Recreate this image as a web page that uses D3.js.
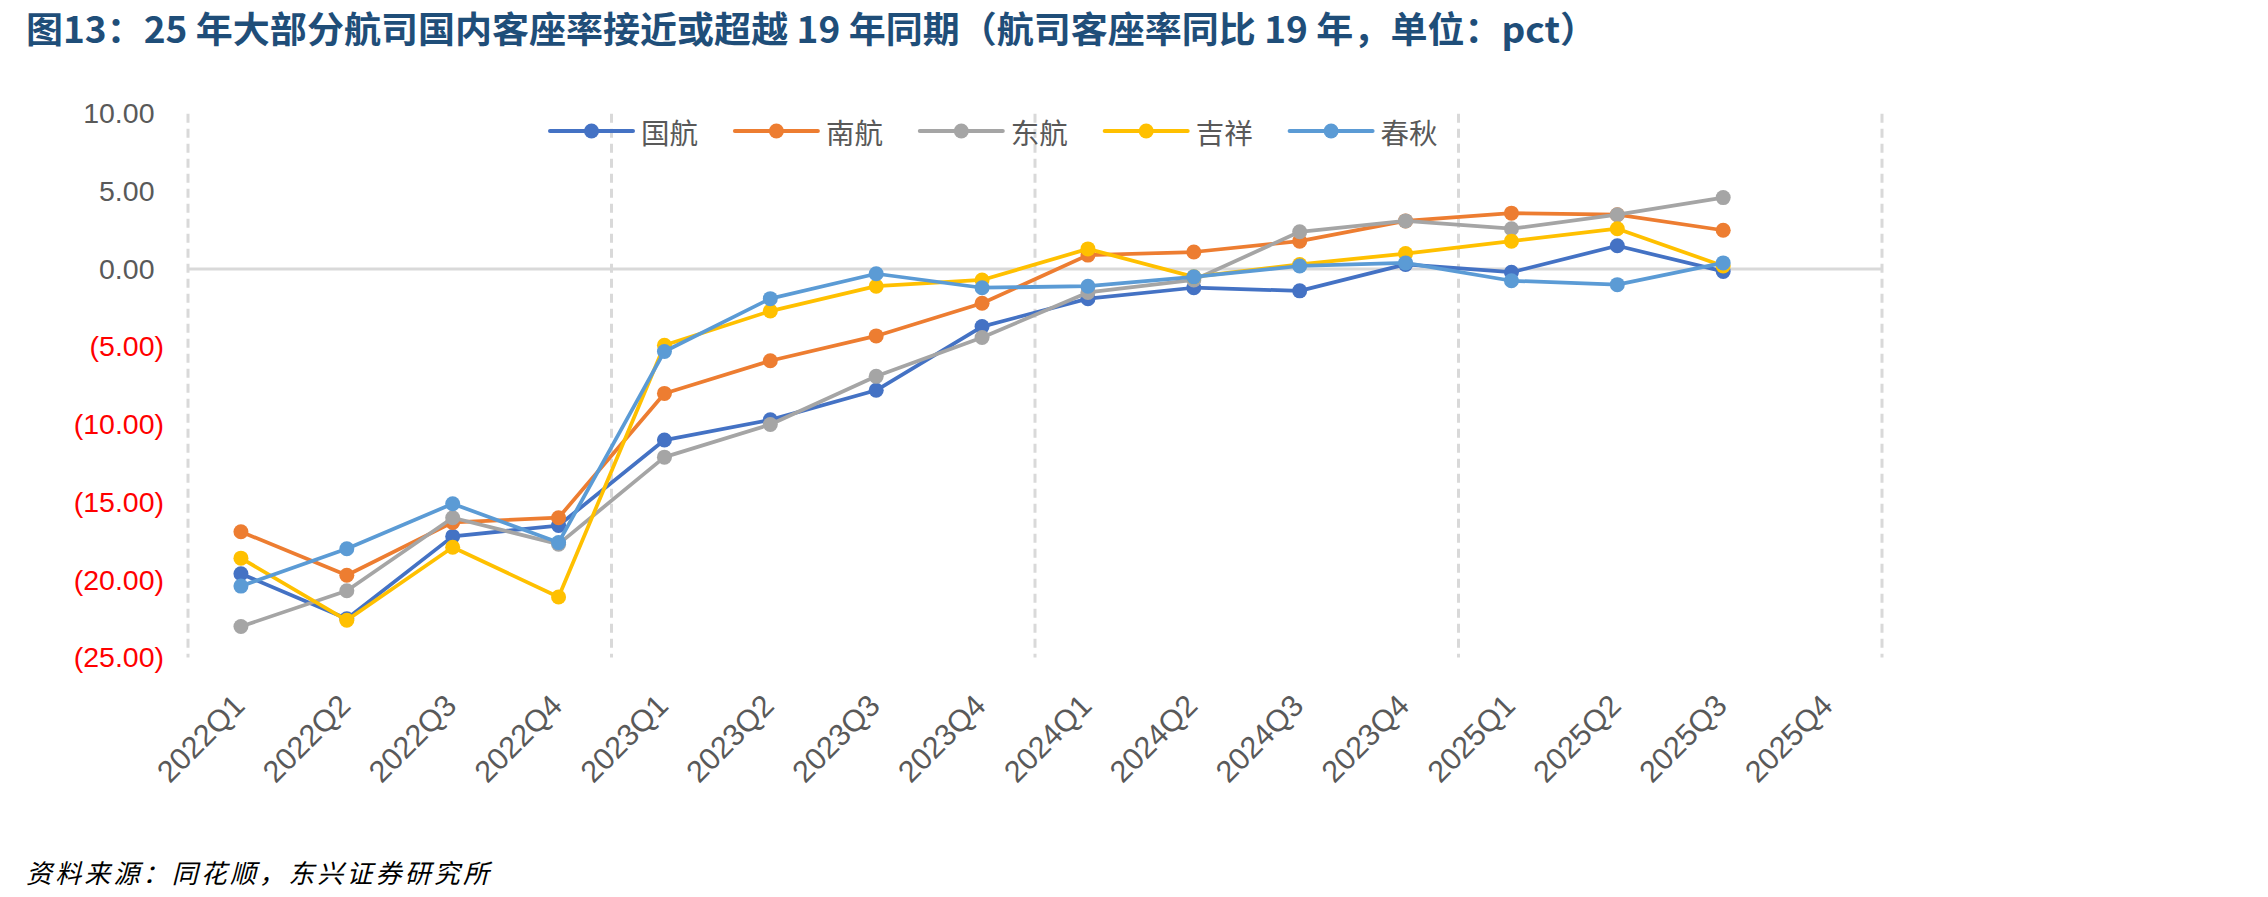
<!DOCTYPE html>
<html>
<head>
<meta charset="utf-8">
<script src="https://cdn.jsdelivr.net/npm/d3@7"></script>
<style>
  html, body { margin: 0; padding: 0; background: #ffffff; }
  svg { display: block; }
</style>
</head>
<body>
<svg id="chart" width="2268" height="897"></svg>
<script>
// ---------- data ----------
const categories = ["2022Q1","2022Q2","2022Q3","2022Q4","2023Q1","2023Q2","2023Q3","2023Q4",
                    "2024Q1","2024Q2","2024Q3","2023Q4","2025Q1","2025Q2","2025Q3","2025Q4"];
const seriesNames = ["国航", "南航", "东航", "吉祥", "春秋"];
const airChina   = [-19.6, -22.5, -17.2, -16.5, -11.0, -9.7, -7.8, -3.7, -1.9, -1.2, -1.4, 0.3, -0.2, 1.5, -0.15, null];
const chinaSouth = [-16.9, -19.7, -16.3, -16.0, -8.0, -5.9, -4.3, -2.2, 0.9, 1.1, 1.8, 3.1, 3.6, 3.5, 2.5, null];
const chinaEast  = [-23.0, -20.7, -16.0, -17.7, -12.1, -10.0, -6.9, -4.4, -1.5, -0.7, 2.4, 3.1, 2.6, 3.5, 4.6, null];
const juneyao    = [-18.6, -22.6, -17.9, -21.1, -4.9, -2.7, -1.1, -0.7, 1.3, -0.5, 0.3, 1.0, 1.8, 2.6, 0.2, null];
const springAir  = [-20.4, -18.0, -15.1, -17.6, -5.3, -1.9, -0.3, -1.2, -1.1, -0.5, 0.2, 0.4, -0.75, -1.0, 0.4, null];
const yTicks = [10, 5, 0, -5, -10, -15, -20, -25];
const colors = ["#4472C4", "#ED7D31", "#A5A5A5", "#FFC000", "#5B9BD5"];

const titleText = "图13：25 年大部分航司国内客座率接近或超越 19 年同期（航司客座率同比 19 年，单位：pct）";
const sourceText = "资料来源：同花顺，东兴证券研究所";

const series = [airChina, chinaSouth, chinaEast, juneyao, springAir];

// ---------- layout ----------
const plotLeft = 188, plotRight = 1882;
const yTop = 113.7, yBottom = 657.6;
const svg = d3.select("#chart");
const latin = "'Liberation Sans', Arial, sans-serif";
const cjk = "'Noto Sans CJK SC', 'Liberation Sans', sans-serif";

const x = d3.scaleBand().domain(d3.range(categories.length)).range([plotLeft, plotRight]).paddingInner(0).paddingOuter(0);
const y = d3.scaleLinear().domain([-25, 10]).range([yBottom, yTop]);
const cx = i => x(i) + x.bandwidth() / 2;

// title
svg.append("text")
  .attr("x", 26).attr("y", 27)
  .attr("dominant-baseline", "central")
  .attr("font-family", cjk).attr("font-weight", "bold").attr("font-size", 36)
  .attr("fill", "#1F4E79")
  .attr("textLength", 1571).attr("lengthAdjust", "spacingAndGlyphs")
  .text(titleText);

// vertical dashed gridlines every 4 categories
const boundaries = [0, 4, 8, 12, 16].map(i => i < categories.length ? x(i) : plotRight);
svg.append("g").selectAll("line").data(boundaries).join("line")
  .attr("x1", d => d).attr("x2", d => d)
  .attr("y1", y(10)).attr("y2", y(-25))
  .attr("stroke", "#D9D9D9").attr("stroke-width", 3)
  .attr("stroke-dasharray", "9,6");

// zero line
svg.append("line")
  .attr("x1", plotLeft).attr("x2", plotRight)
  .attr("y1", y(0)).attr("y2", y(0))
  .attr("stroke", "#D9D9D9").attr("stroke-width", 3);

// y axis
const yAxis = d3.axisLeft(y).tickValues(yTicks).tickSize(0).tickPadding(24)
  .tickFormat(v => v < 0 ? "(" + Math.abs(v).toFixed(2) + ")" : v.toFixed(2));
const gy = svg.append("g").attr("transform", `translate(${plotLeft},0)`).call(yAxis);
gy.select(".domain").remove();
gy.selectAll("text")
  .attr("font-family", latin).attr("font-size", 28.5)
  .attr("fill", d => d < 0 ? "#FF0000" : "#595959")
  .each(function(d) {
    if (d >= 0) d3.select(this).append("tspan").attr("fill-opacity", 0).text(")");
  });

// x axis
const xAxis = d3.axisBottom(x).tickSize(0).tickPadding(0).tickFormat(i => categories[i]);
const gx = svg.append("g").attr("transform", `translate(0,700)`).call(xAxis);
gx.select(".domain").remove();
gx.selectAll("text")
  .attr("font-family", latin).attr("font-size", 30.5)
  .attr("fill", "#595959")
  .attr("text-anchor", "end")
  .attr("x", 0).attr("y", 0).attr("dy", "0.35em")
  .attr("transform", "translate(-2,0) rotate(-45)");

// lines & markers
const line = d3.line()
  .defined(d => d.v !== null)
  .x(d => cx(d.i)).y(d => y(d.v));

series.forEach((vals, k) => {
  const pts = vals.map((v, i) => ({ i, v }));
  const g = svg.append("g");
  g.append("path").datum(pts)
    .attr("d", line)
    .attr("fill", "none").attr("stroke", colors[k]).attr("stroke-width", 3.75)
    .attr("stroke-linejoin", "round").attr("stroke-linecap", "round");
  g.selectAll("circle").data(pts.filter(d => d.v !== null)).join("circle")
    .attr("cx", d => cx(d.i)).attr("cy", d => y(d.v))
    .attr("r", 7.5).attr("fill", colors[k]);
});

// legend
const legendX0 = 550, legendStep = 184.9, legendY = 131;
const lg = svg.append("g");
seriesNames.forEach((name, k) => {
  const lx = legendX0 + k * legendStep;
  lg.append("line").attr("x1", lx).attr("x2", lx + 83).attr("y1", legendY).attr("y2", legendY)
    .attr("stroke", colors[k]).attr("stroke-width", 4).attr("stroke-linecap", "round");
  lg.append("circle").attr("cx", lx + 41.5).attr("cy", legendY).attr("r", 7.5).attr("fill", colors[k]);
  lg.append("text").attr("x", lx + 91).attr("y", legendY)
    .attr("dominant-baseline", "central")
    .attr("font-family", cjk).attr("font-size", 28.5).attr("fill", "#595959")
    .text(name);
});

// source
svg.append("text")
  .attr("x", 26).attr("y", 871)
  .attr("dominant-baseline", "central")
  .attr("font-family", cjk).attr("font-size", 26).attr("font-style", "italic")
  .attr("fill", "#000000")
  .attr("textLength", 463).attr("lengthAdjust", "spacing")
  .text(sourceText);
</script>
</body>
</html>
